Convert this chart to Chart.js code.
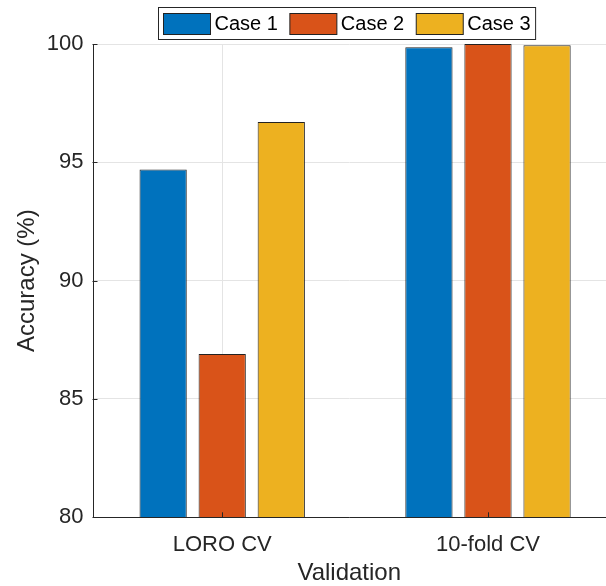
<!DOCTYPE html>
<html>
<head>
<meta charset="utf-8">
<script src="https://cdn.jsdelivr.net/npm/chart.js@4/dist/chart.umd.min.js"></script>
<style>
  html, body { margin: 0; padding: 0; background: #ffffff; }
  #wrap { width: 606px; height: 586px; }
</style>
</head>
<body>
<div id="wrap"><canvas id="c" width="606" height="586"></canvas></div>
<script>
// Categories and accuracy values (%)
const categories = ['LORO CV', '10-fold CV'];
const seriesNames = ['Case 1', 'Case 2', 'Case 3'];
const case1 = [94.7, 99.86];
const case2 = [86.9, 100.0];
const case3 = [96.7, 99.95];
const yTicks = [80, 85, 90, 95, 100];

const seriesColors = ['#0072BD', '#D95319', '#EDB120'];
const FONT = '"Liberation Sans", Arial, Helvetica, sans-serif';
const AXIS = '#262626';

const toPoints = vals => vals.map((v, i) => ({ x: i + 1, y: v }));

const datasets = [case1, case2, case3].map((vals, k) => ({
  label: seriesNames[k],
  data: toPoints(vals),
  backgroundColor: seriesColors[k],
  borderColor: '#222222',
  borderWidth: 1,
  borderSkipped: false,
  categoryPercentage: 0.6667,
  barPercentage: 0.8
}));

// Framed legend and inward tick marks
const decorations = {
  id: 'decorations',
  afterDatasetsDraw(chart) {
    const ctx = chart.ctx;
    const xs = chart.scales.x, ys = chart.scales.y;
    const a = chart.chartArea;
    ctx.save();
    ctx.strokeStyle = AXIS;
    ctx.lineWidth = 1;
    ctx.beginPath();
    // axis lines on top of the bars
    ctx.moveTo(Math.round(a.left) + 0.5, a.top);
    ctx.lineTo(Math.round(a.left) + 0.5, Math.round(a.bottom) + 0.5);
    ctx.lineTo(a.right, Math.round(a.bottom) + 0.5);
    // y ticks pointing inward
    ys.ticks.forEach(t => {
      const py = Math.round(ys.getPixelForValue(t.value)) + 0.5;
      ctx.moveTo(a.left, py);
      ctx.lineTo(a.left + 5, py);
    });
    // x ticks pointing inward
    xs.ticks.forEach(t => {
      const px = Math.round(xs.getPixelForValue(t.value)) + 0.5;
      ctx.moveTo(px, a.bottom);
      ctx.lineTo(px, a.bottom - 5);
    });
    ctx.stroke();
    ctx.restore();
  },
  afterDraw(chart) {
    const ctx = chart.ctx;
    const a = chart.chartArea;
    ctx.save();
    ctx.font = '20px ' + FONT;
    const sw = 47, sh = 21, gapText = 4, gapItem = 12, padL = 5, padR = 5, h = 32;
    const items = chart.data.datasets;
    const widths = items.map(d => ctx.measureText(d.label).width);
    let total = padL + padR + gapItem * (items.length - 1);
    widths.forEach(w => { total += sw + gapText + w; });
    const cx = (a.left + a.right) / 2 - 3;
    const left = Math.round(cx - total / 2) + 0.5;
    const top = 7.5;
    ctx.fillStyle = '#ffffff';
    ctx.fillRect(left, top, total, h);
    ctx.strokeStyle = AXIS;
    ctx.lineWidth = 1;
    ctx.strokeRect(left, top, total, h);
    let x = left + padL;
    items.forEach((d, i) => {
      const sy = top + 6;
      ctx.fillStyle = d.backgroundColor;
      ctx.fillRect(x, sy, sw, sh);
      ctx.strokeStyle = '#222222';
      ctx.strokeRect(x, sy, sw, sh);
      ctx.fillStyle = '#000000';
      ctx.textBaseline = 'middle';
      ctx.textAlign = 'left';
      ctx.fillText(d.label, x + sw + gapText, top + h / 2 + 1);
      x += sw + gapText + widths[i] + gapItem;
    });
    ctx.restore();
  }
};

new Chart(document.getElementById('c'), {
  type: 'bar',
  data: { datasets },
  options: {
    responsive: false,
    animation: false,
    devicePixelRatio: 1,
    layout: { padding: { top: 44, left: 13, right: 0, bottom: -1.5 } },
    plugins: {
      legend: { display: false },
      tooltip: { enabled: false }
    },
    scales: {
      x: {
        type: 'linear',
        offset: false,
        min: 0.512,
        max: 2.444,
        afterBuildTicks: scale => {
          scale.ticks = categories.map((c, i) => ({ value: i + 1 }));
        },
        ticks: {
          callback: v => categories[Math.round(v) - 1] || '',
          font: { family: FONT, size: 22 },
          color: AXIS,
          padding: 14,
          maxRotation: 0,
          autoSkip: false
        },
        grid: { offset: false, color: '#e4e4e4', lineWidth: 1, drawTicks: false },
        border: { display: false },
        title: {
          display: true,
          text: 'Validation',
          font: { family: FONT, size: 24 },
          color: AXIS,
          padding: { top: -13, bottom: 0 }
        }
      },
      y: {
        min: 80,
        max: 100,
        afterBuildTicks: scale => {
          scale.ticks = yTicks.map(v => ({ value: v }));
        },
        ticks: {
          font: { family: FONT, size: 22 },
          color: AXIS,
          padding: 9
        },
        grid: { color: '#e4e4e4', lineWidth: 1, drawTicks: false },
        border: { display: false },
        title: {
          display: true,
          text: 'Accuracy (%)',
          font: { family: FONT, size: 24 },
          color: AXIS,
          padding: { top: 0, bottom: -4 }
        }
      }
    }
  },
  plugins: [decorations]
});
</script>
</body>
</html>
